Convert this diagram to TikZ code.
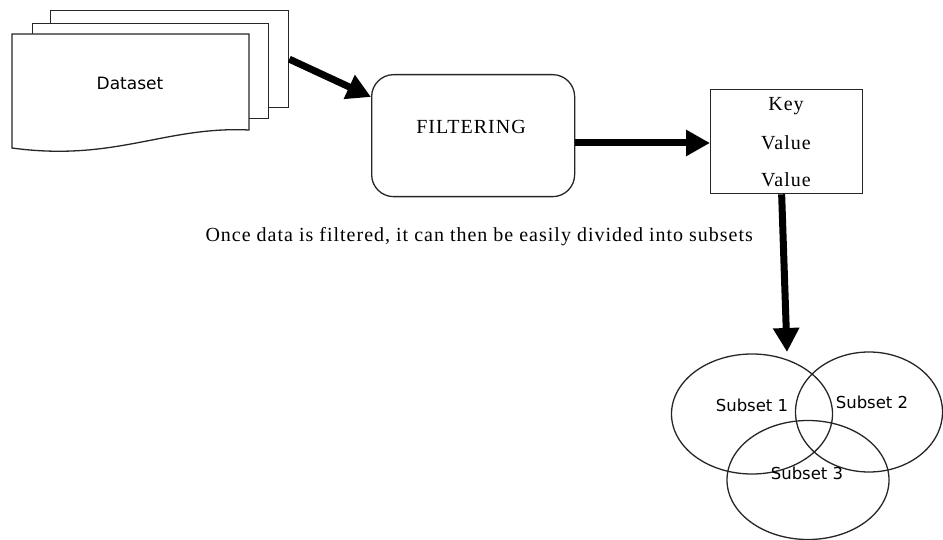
\documentclass[tikz,border=0pt]{standalone}
\usepackage{fontspec}
\setmainfont{Liberation Serif}
\newfontfamily\dv{DejaVu Sans}
\newfontfamily\spserif[LetterSpace=5]{Liberation Serif}
\usetikzlibrary{arrows.meta,shapes.geometric,calc}
\tikzset{
  outline/.style={draw=black!85, line width=1.3pt},
  page/.style={outline, fill=white, rectangle, inner sep=0pt, anchor=north west},
  bigarrow/.style={line width=7pt, -{Triangle[length=24pt,width=25pt]}},
  serif/.style={font=\spserif\fontsize{20}{23}\selectfont},
  sans/.style={font=\dv\fontsize{17}{20}\selectfont},
  vennlabel/.style={font=\dv\fontsize{16.5}{19}\selectfont},
  venn/.style={outline, ellipse, inner sep=0pt}
}
\begin{document}
\begin{tikzpicture}[x=1pt,y=-1pt]
\useasboundingbox (0,0) rectangle (943,540);
% dataset stack
\node[page, minimum width=238pt, minimum height=97pt] (pg3) at (50,10) {};
\node[page, minimum width=236pt, minimum height=95pt] (pg2) at (32,23) {};
\draw[outline, fill=white] (12,34) -- (249,34) -- (249,130)
  .. controls (165,126) and (115,162) .. (12,148) -- cycle;
\node[sans] (ds) at (130,83) {Dataset};
% filtering
\node[outline, rectangle, rounded corners=22pt, minimum width=203pt, minimum height=122pt, anchor=north west] (filter) at (371,74) {};
\node[serif] (ftext) at (471,127) {FILTERING};
% key value box
\node[outline, rectangle, minimum width=152pt, minimum height=104pt, anchor=north west] (kv) at (710,89) {};
\node[serif] (k1) at (786,106) {Key};
\node[serif] (v1) at (786,143) {Value};
\node[serif] (v2) at (786,180) {Value};
% caption
\node[serif, anchor=west] (cap) at (202,237) {Once data is filtered, it can then be easily divided into subsets};
% venn
\node[venn, minimum width=161pt, minimum height=120pt] (s1) at (752,414) {};
\node[venn, minimum width=147pt, minimum height=120pt] (s2) at (869,412) {};
\node[venn, minimum width=162pt, minimum height=119pt] (s3) at (808,480) {};
\node[vennlabel] (t1) at (752,405) {Subset 1};
\node[vennlabel] (t2) at (872,402) {Subset 2};
\node[vennlabel] (t3) at (807,473) {Subset 3};
% arrows
\coordinate (fin) at (371,97);
\coordinate (kvin) at (710,143);
\coordinate (vtip) at (787,352);
\draw[bigarrow] (pg3.east) -- (fin);
\draw[bigarrow] (filter.east |- kvin) -- (kvin);
\draw[bigarrow] ($(kv.south)+(-5,0)$) -- (vtip);
\end{tikzpicture}
\end{document}
